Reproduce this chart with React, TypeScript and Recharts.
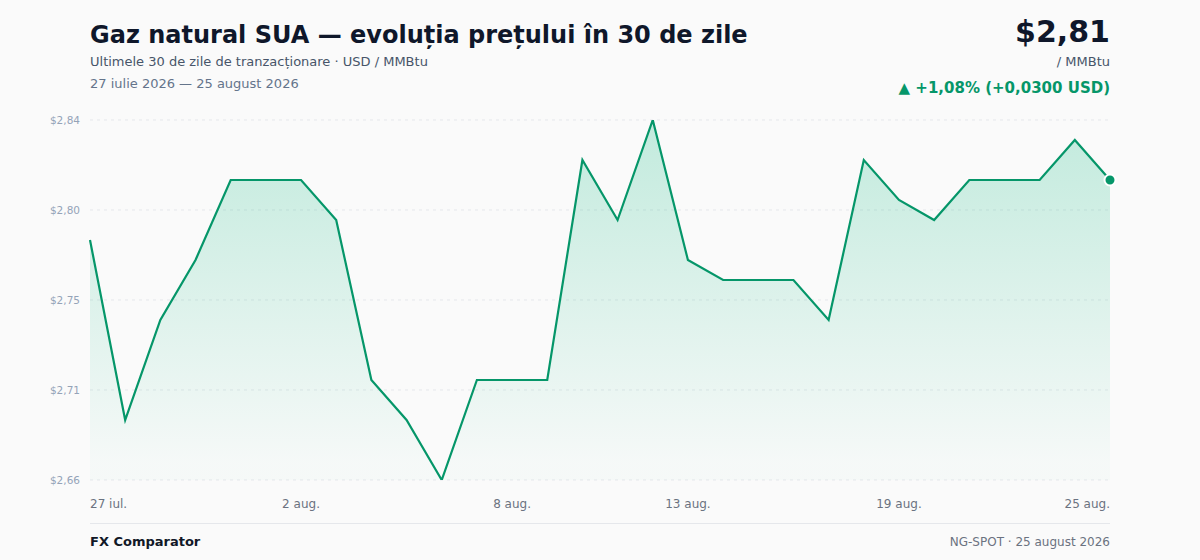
import React from "react";
import { AreaChart, Area, XAxis, YAxis, CartesianGrid } from "recharts";

const days = [
  "27 iul.", "28 iul.", "29 iul.", "30 iul.", "31 iul.",
  "1 aug.", "2 aug.", "3 aug.", "4 aug.", "5 aug.", "6 aug.", "7 aug.",
  "8 aug.", "9 aug.", "10 aug.", "11 aug.", "12 aug.", "13 aug.", "14 aug.",
  "15 aug.", "16 aug.", "17 aug.", "18 aug.", "19 aug.", "20 aug.", "21 aug.",
  "22 aug.", "23 aug.", "24 aug.", "25 aug.",
];

const prices = [
  2.78, 2.69, 2.74, 2.77, 2.81, 2.81, 2.81, 2.79, 2.71, 2.69,
  2.66, 2.71, 2.71, 2.71, 2.82, 2.79, 2.84, 2.77, 2.76, 2.76,
  2.76, 2.74, 2.82, 2.80, 2.79, 2.81, 2.81, 2.81, 2.83, 2.81,
];

const xTicks = ["27 iul.", "2 aug.", "8 aug.", "13 aug.", "19 aug.", "25 aug."];
const yTicks = [2.66, 2.705, 2.75, 2.795, 2.84];
const yTickLabels = ["$2,66", "$2,71", "$2,75", "$2,80", "$2,84"];

const data = days.map((day, i) => ({ day, price: prices[i] }));

const FONT = "'DejaVu Sans', sans-serif";
const GREEN = "#059669";
const FILL = "#10b981";

const XTick = (props: any) => {
  const { x, y, payload } = props;
  const first = payload.value === xTicks[0];
  const last = payload.value === xTicks[xTicks.length - 1];
  return (
    <text
      x={x}
      y={y}
      dy={26}
      textAnchor={first ? "start" : last ? "end" : "middle"}
      fill="#6b7280"
      fontSize={12}
      fontFamily={FONT}
    >
      {payload.value}
    </text>
  );
};

const LastDot = (props: any) => {
  const { cx, cy, index } = props;
  if (index !== data.length - 1) return null;
  return <circle cx={cx} cy={cy} r={5.5} fill={GREEN} stroke="#ffffff" strokeWidth={2} />;
};

export default function App() {
  return (
    <div
      style={{
        position: "absolute",
        left: 0,
        top: 0,
        width: 1200,
        height: 560,
        background: "#fafafa",
        fontFamily: FONT,
        overflow: "hidden",
      }}
    >
      <div style={{ position: "absolute", left: 90, top: 19, fontSize: 24, fontWeight: 700, color: "#0f172a", lineHeight: "32px" }}>
        Gaz natural SUA — evoluția prețului în 30 de zile
      </div>
      <div style={{ position: "absolute", left: 90, top: 53, fontSize: 13, color: "#475569", lineHeight: "18px" }}>
        Ultimele 30 de zile de tranzacționare · USD / MMBtu
      </div>
      <div style={{ position: "absolute", left: 90, top: 75, fontSize: 13, color: "#64748b", lineHeight: "18px" }}>
        27 iulie 2026 — 25 august 2026
      </div>

      <div style={{ position: "absolute", right: 90, top: 13, fontSize: 30, fontWeight: 700, color: "#0f172a", lineHeight: "38px", textAlign: "right" }}>
        $2,81
      </div>
      <div style={{ position: "absolute", right: 90, top: 53, fontSize: 13, color: "#475569", lineHeight: "18px", textAlign: "right" }}>
        / MMBtu
      </div>
      <div style={{ position: "absolute", right: 90, top: 78, fontSize: 15, fontWeight: 700, color: GREEN, lineHeight: "20px", textAlign: "right" }}>
        ▲ +1,08% (+0,0300 USD)
      </div>

      <div style={{ position: "absolute", left: 0, top: 0 }}>
        <AreaChart width={1200} height={520} data={data} margin={{ top: 120, right: 90, bottom: 10, left: 20 }}>
          <defs>
            <linearGradient id="priceFill" x1="0" y1="0" x2="0" y2="1">
              <stop offset="0%" stopColor={FILL} stopOpacity={0.24} />
              <stop offset="95%" stopColor={FILL} stopOpacity={0.02} />
            </linearGradient>
          </defs>
          <CartesianGrid vertical={false} stroke="#e5e7eb" strokeDasharray="3 4" />
          <XAxis
            dataKey="day"
            ticks={xTicks}
            interval={0}
            tick={<XTick />}
            tickLine={false}
            axisLine={false}
            tickSize={0}
            height={30}
          />
          <YAxis
            domain={[2.66, 2.84]}
            ticks={yTicks}
            tickFormatter={(_v: number, i: number) => yTickLabels[i]}
            tick={{ fill: "#94a3b8", fontSize: 10.5, fontFamily: FONT }}
            tickLine={false}
            axisLine={false}
            tickSize={0}
            tickMargin={10}
            width={70}
            allowDataOverflow
          />
          <Area
            type="linear"
            dataKey="price"
            stroke={GREEN}
            strokeWidth={2.2}
            fill="url(#priceFill)"
            fillOpacity={1}
            baseValue="dataMin"
            dot={<LastDot />}
            activeDot={false}
            isAnimationActive={false}
          />
        </AreaChart>
      </div>

      <div style={{ position: "absolute", left: 90, top: 523, width: 1020, height: 1, background: "#e5e7eb" }} />
      <div style={{ position: "absolute", left: 90, top: 533, fontSize: 13, fontWeight: 700, color: "#111827", lineHeight: "18px" }}>
        FX Comparator
      </div>
      <div style={{ position: "absolute", right: 90, top: 533, fontSize: 12, color: "#6b7280", lineHeight: "18px", textAlign: "right" }}>
        NG-SPOT · 25 august 2026
      </div>
    </div>
  );
}
